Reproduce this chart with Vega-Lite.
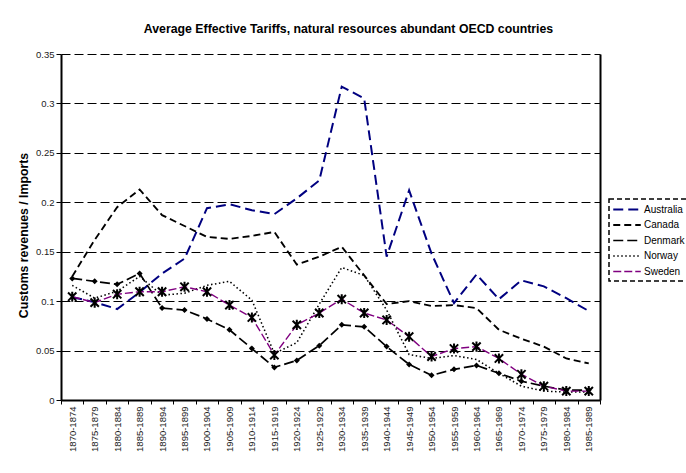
{
  "$schema": "https://vega.github.io/schema/vega-lite/v6.json",
  "width": 539,
  "height": 346,
  "autosize": {"type": "none"},
  "padding": {"left": 61, "top": 54, "right": 86, "bottom": 73},
  "background": "white",
  "config": {"font": "Liberation Sans", "view": {"stroke": null}},
  "title": {
    "text": "Average Effective Tariffs, natural resources abundant OECD countries",
    "fontSize": 12.3, "fontWeight": "bold", "font": "Liberation Sans", "color": "black",
    "anchor": "middle", "frame": "group", "dx": 18, "offset": 14
  },
  "datasets": {
    "tariffs": [
      {"period": "1870-1874", "country": "Australia", "value": 0.104},
      {"period": "1875-1879", "country": "Australia", "value": 0.099},
      {"period": "1880-1884", "country": "Australia", "value": 0.092},
      {"period": "1885-1889", "country": "Australia", "value": 0.109},
      {"period": "1890-1894", "country": "Australia", "value": 0.128},
      {"period": "1895-1899", "country": "Australia", "value": 0.143},
      {"period": "1900-1904", "country": "Australia", "value": 0.194},
      {"period": "1905-1909", "country": "Australia", "value": 0.198},
      {"period": "1910-1914", "country": "Australia", "value": 0.192},
      {"period": "1915-1919", "country": "Australia", "value": 0.188},
      {"period": "1920-1924", "country": "Australia", "value": 0.204},
      {"period": "1925-1929", "country": "Australia", "value": 0.222},
      {"period": "1930-1934", "country": "Australia", "value": 0.317},
      {"period": "1935-1939", "country": "Australia", "value": 0.305},
      {"period": "1940-1944", "country": "Australia", "value": 0.145},
      {"period": "1945-1949", "country": "Australia", "value": 0.212},
      {"period": "1950-1954", "country": "Australia", "value": 0.148},
      {"period": "1955-1959", "country": "Australia", "value": 0.098},
      {"period": "1960-1964", "country": "Australia", "value": 0.127},
      {"period": "1965-1969", "country": "Australia", "value": 0.102},
      {"period": "1970-1974", "country": "Australia", "value": 0.121},
      {"period": "1975-1979", "country": "Australia", "value": 0.115},
      {"period": "1980-1984", "country": "Australia", "value": 0.103},
      {"period": "1985-1989", "country": "Australia", "value": 0.090},
      {"period": "1870-1874", "country": "Canada", "value": 0.125},
      {"period": "1875-1879", "country": "Canada", "value": 0.162},
      {"period": "1880-1884", "country": "Canada", "value": 0.195},
      {"period": "1885-1889", "country": "Canada", "value": 0.213},
      {"period": "1890-1894", "country": "Canada", "value": 0.187},
      {"period": "1895-1899", "country": "Canada", "value": 0.176},
      {"period": "1900-1904", "country": "Canada", "value": 0.165},
      {"period": "1905-1909", "country": "Canada", "value": 0.163},
      {"period": "1910-1914", "country": "Canada", "value": 0.166},
      {"period": "1915-1919", "country": "Canada", "value": 0.170},
      {"period": "1920-1924", "country": "Canada", "value": 0.137},
      {"period": "1925-1929", "country": "Canada", "value": 0.145},
      {"period": "1930-1934", "country": "Canada", "value": 0.155},
      {"period": "1935-1939", "country": "Canada", "value": 0.126},
      {"period": "1940-1944", "country": "Canada", "value": 0.097},
      {"period": "1945-1949", "country": "Canada", "value": 0.100},
      {"period": "1950-1954", "country": "Canada", "value": 0.095},
      {"period": "1955-1959", "country": "Canada", "value": 0.096},
      {"period": "1960-1964", "country": "Canada", "value": 0.093},
      {"period": "1965-1969", "country": "Canada", "value": 0.071},
      {"period": "1970-1974", "country": "Canada", "value": 0.062},
      {"period": "1975-1979", "country": "Canada", "value": 0.054},
      {"period": "1980-1984", "country": "Canada", "value": 0.042},
      {"period": "1985-1989", "country": "Canada", "value": 0.037},
      {"period": "1870-1874", "country": "Denmark", "value": 0.123},
      {"period": "1875-1879", "country": "Denmark", "value": 0.120},
      {"period": "1880-1884", "country": "Denmark", "value": 0.117},
      {"period": "1885-1889", "country": "Denmark", "value": 0.128},
      {"period": "1890-1894", "country": "Denmark", "value": 0.093},
      {"period": "1895-1899", "country": "Denmark", "value": 0.091},
      {"period": "1900-1904", "country": "Denmark", "value": 0.082},
      {"period": "1905-1909", "country": "Denmark", "value": 0.071},
      {"period": "1910-1914", "country": "Denmark", "value": 0.052},
      {"period": "1915-1919", "country": "Denmark", "value": 0.033},
      {"period": "1920-1924", "country": "Denmark", "value": 0.040},
      {"period": "1925-1929", "country": "Denmark", "value": 0.055},
      {"period": "1930-1934", "country": "Denmark", "value": 0.076},
      {"period": "1935-1939", "country": "Denmark", "value": 0.074},
      {"period": "1940-1944", "country": "Denmark", "value": 0.054},
      {"period": "1945-1949", "country": "Denmark", "value": 0.036},
      {"period": "1950-1954", "country": "Denmark", "value": 0.025},
      {"period": "1955-1959", "country": "Denmark", "value": 0.031},
      {"period": "1960-1964", "country": "Denmark", "value": 0.035},
      {"period": "1965-1969", "country": "Denmark", "value": 0.027},
      {"period": "1970-1974", "country": "Denmark", "value": 0.019},
      {"period": "1975-1979", "country": "Denmark", "value": 0.014},
      {"period": "1980-1984", "country": "Denmark", "value": 0.010},
      {"period": "1985-1989", "country": "Denmark", "value": 0.010},
      {"period": "1870-1874", "country": "Norway", "value": 0.116},
      {"period": "1875-1879", "country": "Norway", "value": 0.103},
      {"period": "1880-1884", "country": "Norway", "value": 0.110},
      {"period": "1885-1889", "country": "Norway", "value": 0.125},
      {"period": "1890-1894", "country": "Norway", "value": 0.106},
      {"period": "1895-1899", "country": "Norway", "value": 0.108},
      {"period": "1900-1904", "country": "Norway", "value": 0.116},
      {"period": "1905-1909", "country": "Norway", "value": 0.120},
      {"period": "1910-1914", "country": "Norway", "value": 0.101},
      {"period": "1915-1919", "country": "Norway", "value": 0.047},
      {"period": "1920-1924", "country": "Norway", "value": 0.058},
      {"period": "1925-1929", "country": "Norway", "value": 0.097},
      {"period": "1930-1934", "country": "Norway", "value": 0.134},
      {"period": "1935-1939", "country": "Norway", "value": 0.126},
      {"period": "1940-1944", "country": "Norway", "value": 0.091},
      {"period": "1945-1949", "country": "Norway", "value": 0.046},
      {"period": "1950-1954", "country": "Norway", "value": 0.042},
      {"period": "1955-1959", "country": "Norway", "value": 0.045},
      {"period": "1960-1964", "country": "Norway", "value": 0.041},
      {"period": "1965-1969", "country": "Norway", "value": 0.027},
      {"period": "1970-1974", "country": "Norway", "value": 0.014},
      {"period": "1975-1979", "country": "Norway", "value": 0.009},
      {"period": "1980-1984", "country": "Norway", "value": 0.008},
      {"period": "1985-1989", "country": "Norway", "value": 0.008},
      {"period": "1870-1874", "country": "Sweden", "value": 0.1045},
      {"period": "1875-1879", "country": "Sweden", "value": 0.0985},
      {"period": "1880-1884", "country": "Sweden", "value": 0.107},
      {"period": "1885-1889", "country": "Sweden", "value": 0.1095},
      {"period": "1890-1894", "country": "Sweden", "value": 0.1095},
      {"period": "1895-1899", "country": "Sweden", "value": 0.1145},
      {"period": "1900-1904", "country": "Sweden", "value": 0.1095},
      {"period": "1905-1909", "country": "Sweden", "value": 0.096},
      {"period": "1910-1914", "country": "Sweden", "value": 0.0835},
      {"period": "1915-1919", "country": "Sweden", "value": 0.0455},
      {"period": "1920-1924", "country": "Sweden", "value": 0.076},
      {"period": "1925-1929", "country": "Sweden", "value": 0.088},
      {"period": "1930-1934", "country": "Sweden", "value": 0.102},
      {"period": "1935-1939", "country": "Sweden", "value": 0.088},
      {"period": "1940-1944", "country": "Sweden", "value": 0.081},
      {"period": "1945-1949", "country": "Sweden", "value": 0.064},
      {"period": "1950-1954", "country": "Sweden", "value": 0.044},
      {"period": "1955-1959", "country": "Sweden", "value": 0.052},
      {"period": "1960-1964", "country": "Sweden", "value": 0.054},
      {"period": "1965-1969", "country": "Sweden", "value": 0.042},
      {"period": "1970-1974", "country": "Sweden", "value": 0.026},
      {"period": "1975-1979", "country": "Sweden", "value": 0.014},
      {"period": "1980-1984", "country": "Sweden", "value": 0.009},
      {"period": "1985-1989", "country": "Sweden", "value": 0.009}
    ]
  },
  "data": {"name": "tariffs"},
  "encoding": {
    "x": {
      "field": "period", "type": "ordinal",
      "scale": {"type": "band", "paddingInner": 0, "paddingOuter": 0},
      "bandPosition": 0.5,
      "axis": {
        "title": null, "labelAngle": -90, "labelFontSize": 9.5, "labelColor": "#222222",
        "labelFont": "Liberation Sans", "tickBand": "extent", "tickSize": 4, "tickColor": "black",
        "domainColor": "black", "domainWidth": 2, "labelPadding": 2, "grid": false
      }
    },
    "y": {
      "field": "value", "type": "quantitative",
      "scale": {"domain": [0, 0.35], "nice": false, "zero": true},
      "axis": null
    }
  },
  "layer": [
    {
      "mark": {"type": "line"},
      "encoding": {
        "y": {
          "field": "value", "type": "quantitative",
          "scale": {"domain": [0, 0.35], "nice": false},
          "axis": {
            "orient": "left",
            "values": [0, 0.05, 0.1, 0.15, 0.2, 0.25, 0.3, 0.35], "format": ".2~f",
            "title": "Customs revenues / Imports", "titleFontSize": 12.3, "titleFontWeight": "bold",
            "titleColor": "black", "titleFont": "Liberation Sans", "titlePadding": 5, "titleY": 181,
            "labelFontSize": 9.5, "labelColor": "#222222", "labelPadding": 2,
            "tickSize": 5, "tickColor": "black", "domainColor": "black", "domainWidth": 2,
            "grid": true, "gridColor": "black", "gridDash": [9, 4], "gridWidth": 1
          }
        },
        "color": {
          "field": "country", "type": "nominal",
          "scale": {"domain": ["Australia", "Canada", "Denmark", "Norway", "Sweden"],
                    "range": ["#000080", "#000000", "#000000", "#000000", "#800080"]},
          "legend": {
            "orient": "none", "legendX": 548, "legendY": 145, "title": null,
            "symbolType": "M-2.5,0L2.5,0", "symbolSize": 121, "symbolOffset": 7.5,
            "labelFontSize": 10, "labelColor": "black",
            "labelFont": "Liberation Sans", "labelOffset": 10.5, "rowPadding": 3.5, "padding": 4,
            "strokeColor": "black",
            "encode": {"legend": {"update": {"strokeDash": {"value": [5, 3]}, "strokeWidth": {"value": 1.5}}}}
          }
        },
        "strokeDash": {
          "field": "country", "type": "nominal",
          "scale": {"domain": ["Australia", "Canada", "Denmark", "Norway", "Sweden"],
                    "range": [[10, 5], [7, 4], [10, 4], [1.5, 2.5], [8, 3]]}
        },
        "strokeWidth": {
          "field": "country", "type": "nominal",
          "scale": {"domain": ["Australia", "Canada", "Denmark", "Norway", "Sweden"],
                    "range": [2, 1.4, 2, 1.4, 2]}
        }
      }
    },
    {
      "transform": [{"filter": "datum.country === 'Denmark'"}],
      "mark": {"type": "point", "shape": "diamond", "filled": true, "color": "black", "size": 36, "opacity": 1}
    },
    {
      "transform": [{"filter": "datum.country === 'Sweden'"}],
      "mark": {"type": "point", "shape": "M-1,-1L1,1M-1,1L1,-1M0,-1.2L0,1.2", "filled": false,
               "stroke": "black", "strokeWidth": 2, "size": 70, "opacity": 1},
      "encoding": {
        "y": {
          "field": "value", "type": "quantitative",
          "scale": {"domain": [0, 0.35], "nice": false},
          "axis": {"orient": "right", "labels": false, "ticks": false, "grid": false, "title": null,
                   "domainColor": "black", "domainWidth": 2}
        }
      }
    }
  ],
  "resolve": {"axis": {"y": "independent"}}
}
